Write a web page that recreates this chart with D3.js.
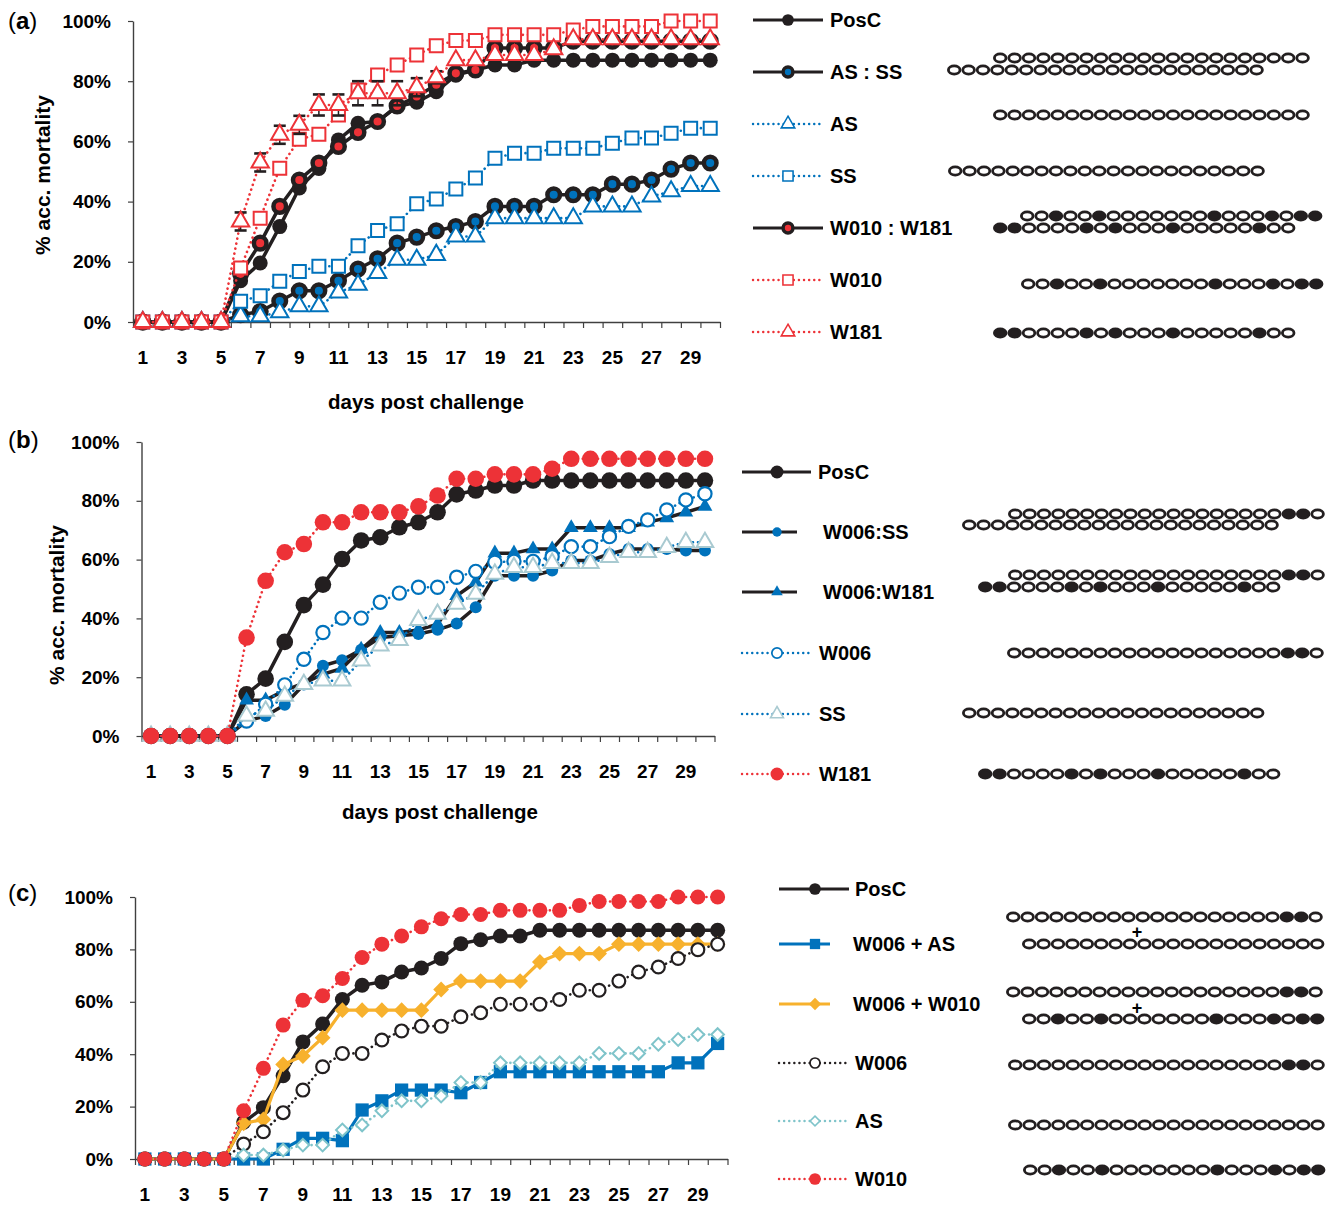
<!DOCTYPE html>
<html>
<head>
<meta charset="utf-8">
<script src="https://cdn.jsdelivr.net/npm/d3@7"></script>
<style>
body { margin: 0; background: #fff; }
text { font-family: "Liberation Sans", Arial, Helvetica, sans-serif; }
</style>
</head>
<body>
<div id="container"></div>
<script>
// days and tick labels
const days = d3.range(1, 31);
const yTicks = [0, 20, 40, 60, 80, 100];
const xLabels = d3.range(1, 30, 2);

// panel (a) values, % accumulated mortality per day
const a_posc = [0,0,0,0,0,13.7,19.6,31.7,44.5,51,60.5,66,66.6,71.6,73,76.5,82,83.7,85.4,85.4,87,87,87,87,87,87,87,87,87,87];
const a_asss = [0,0,0,0,0,2.4,3.5,7,10.4,10.4,13.7,17.6,21,26.2,28.2,30.3,31.7,33.4,38.4,38.4,38.4,42.3,42.3,42.3,45.8,45.8,47.2,50.8,52.8,52.8];
const a_as = [0,0,0,0,0,1.9,1.9,3.2,5.2,5.2,9.8,12.4,16.3,20.7,20.7,22.3,28.4,28.4,34.5,34.5,34.5,34.5,34.5,38.4,38.4,38.4,41.7,43.4,45.2,45.2];
const a_ss = [0,0,0,0,0,6.9,8.7,13.5,16.8,18.5,18.5,25.3,30.4,32.6,39.3,40.9,44.2,47.8,54.4,56.1,56.1,57.7,57.7,57.7,59.4,61.1,61.1,62.7,64.4,64.4];
const a_w010w181 = [0,0,0,0,0,16,26.2,38.4,47.2,52.8,58.3,63,66.6,71.8,74.9,78.8,82.6,83.7,91,91,91,91,93.3,93.3,93.3,93.3,93.3,93.3,93.3,93.3];
const a_w010 = [0,0,0,0,0,17.9,34.5,51.1,60.7,62.4,68.8,77.1,82.1,85.4,88.7,91.8,93.5,93.5,95.4,95.4,95.4,95.4,97,98.2,98.2,98.2,98.2,100,100,100];
const a_w181 = [0,0,0,0,0,33.4,53,62.2,65.5,72.1,72.1,76,76,76,78,81.3,87,87,88.7,88.7,88.7,90.6,93.9,93.9,93.9,93.9,93.9,93.9,93.9,93.9];
const a_w181_err = [0,0,0,0,0,3,3,3,3,3.5,3.5,4,4,4,3,2,0,0,0,0,0,0,0,0,0,0,0,0,0,0];

// panel (b)
const b_posc = [0,0,0,0,0,14.2,19.5,32,44.5,51.5,60.2,66.5,67.6,71,72.7,76.1,82.2,83.5,85.2,85.2,86.9,86.9,86.9,86.9,86.9,86.9,86.9,86.9,86.9,86.9];
const b_w006ss = [0,0,0,0,0,5.1,6.8,10.6,17.5,23.9,25.8,29.3,33.5,34.1,34.7,36.1,38.3,43.8,54.5,54.5,54.5,56.3,59.7,59.7,61.9,63.6,63.6,63.6,63.1,63.1];
const b_w006w181 = [0,0,0,0,0,12.2,12.2,15.5,18,21,23,29.5,35.2,35.2,36.1,38,47.7,52.3,62.2,62.2,63.6,63.6,70.8,70.8,70.8,70.8,72.7,74.2,76.1,78.1];
const b_w006 = [0,0,0,0,0,5.1,10.8,17.4,26.1,35.2,40.1,40.1,45.5,48.6,50.6,50.6,54,56,59.1,59.4,59.4,61,64.4,64.4,67.8,71.3,73.5,76.9,80.3,82.4];
const b_ss = [0,0,0,0,0,6.8,8.5,13.6,17.6,18.8,18.8,25.6,30.7,32.6,39.4,41.5,44.9,48.3,55.1,57.4,57.4,58.8,58.8,58.8,60.8,62.5,62.5,64.2,65.9,65.9];
const b_w181 = [0,0,0,0,0,33.5,52.8,62.5,65.3,72.7,72.7,76.1,76.1,76.1,78.1,81.8,87.5,87.5,89,89,89,90.9,94.3,94.3,94.3,94.3,94.3,94.3,94.3,94.3];

// panel (c)
const c_posc = [0,0,0,0,0,14,19.6,31.8,44.7,51.5,60.9,66.3,67.6,71.4,72.9,76.5,82.2,83.7,85.1,85.1,87.3,87.3,87.3,87.3,87.3,87.3,87.3,87.3,87.3,87.3];
const c_w006as = [0,0,0,0,0,0,0,3.7,7.9,7.9,7,18.7,22.2,26.3,26.3,26.3,25.3,29.2,33.3,33.3,33.3,33.3,33.3,33.3,33.3,33.3,33.3,36.7,36.7,44.1];
const c_w006w010 = [0,0,0,0,0,13.6,15.1,36.1,39.3,46.3,56.8,56.8,56.8,56.8,56.8,64.7,67.9,67.9,67.9,67.9,75.2,78.4,78.4,78.4,82,82,82,82,82,82];
const c_w006 = [0,0,0,0,0,5.7,10.4,17.7,26.3,35.2,40.3,40.3,45.4,48.9,50.7,50.7,54.3,55.8,59.1,59.1,59.1,60.9,64.4,64.4,67.9,71.4,73.3,76.5,79.9,82];
const c_as = [0,0,0,0,0,1.5,1.5,3.4,5.3,5.3,11.1,13,18.4,22.2,22.2,24,29.2,29.2,36.7,36.7,36.7,36.7,36.7,40.3,40.3,40.3,43.8,45.6,47.5,47.5];
const c_w010 = [0,0,0,0,0,18.4,34.6,51.1,60.6,62.3,68.9,76.9,82,85.1,88.6,91.7,93.3,93.3,94.9,94.9,94.9,94.9,96.8,98.3,98.3,98.3,98.3,100,100,100];

// oligo strands, o = open, x = filled (modified) nucleotide
const nt_W006 = 'oooooooooooooooooooxxo';
const nt_W010 = 'ooxooxoooooooxoooxoxx';
const nt_W181 = 'xxooooxoxoooxoooooxoo';
const nt_AS22 = 'oooooooooooooooooooooo';
const nt_AS21 = 'ooooooooooooooooooooo';

const RED = '#ed3237', BLUE = '#0072bc', ORANGE = '#f7b12d', TEAL = '#7fc4ca', PALE = '#a9cad1', BLACK = '#231f20';
const FONT = '"Liberation Sans", Arial, Helvetica, sans-serif';

const svg = d3.select('#container').append('svg')
    .attr('width', 1331).attr('height', 1205)
    .style('background', '#fff');

function drawMarker(g, m, x, y, k) {
    k = k || 1;
    if (m.type === 'circle') {
        g.append('circle').attr('cx', x).attr('cy', y).attr('r', m.r * k)
            .attr('fill', m.fill).attr('stroke', m.stroke || 'none').attr('stroke-width', (m.sw || 0) * k);
    } else {
        const sym = m.type === 'triangle' ? d3.symbolTriangle : d3.symbolSquare;
        const rot = m.type === 'diamond' ? 45 : 0;
        g.append('path').attr('d', d3.symbol().type(sym).size(m.size * k * k)())
            .attr('transform', `translate(${x},${y}) rotate(${rot})`)
            .attr('fill', m.fill).attr('stroke', m.stroke || 'none').attr('stroke-width', (m.sw || 0) * k);
    }
}

function strokeStyle(sel, s, w) {
    sel.attr('fill', 'none').attr('stroke', s.color).attr('stroke-width', w || s.lw);
    if (s.dotted) sel.attr('stroke-dasharray', '0.1 5').attr('stroke-linecap', 'round');
    else sel.attr('stroke-linejoin', 'round');
}

function drawPanel(p) {
    const g = svg.append('g');
    const x = d3.scaleBand().domain(days).range([p.x0, p.x1]);
    const xe = d3.scaleLinear().domain([0, 30]).range([p.x0, p.x1]);
    const y = d3.scaleLinear().domain([0, 100]).range([p.yBot, p.yTop]);

    // axes
    const ya = g.append('g').attr('transform', `translate(${p.x0},0)`)
        .call(d3.axisLeft(y).tickValues(yTicks).tickSize(5).tickSizeOuter(0).tickPadding(17).tickFormat(d => d + '%'));
    const xa = g.append('g').attr('transform', `translate(0,${p.yBot})`)
        .call(d3.axisBottom(xe).tickValues(d3.range(0, 31)).tickSize(6).tickSizeOuter(0).tickFormat(''));
    const xl = g.append('g').attr('transform', `translate(0,${p.yBot})`)
        .call(d3.axisBottom(x).tickValues(xLabels).tickSize(0).tickPadding(29));
    xl.select('.domain').remove();
    [ya, xa].forEach(a => {
        a.select('.domain').attr('stroke', '#404040').attr('stroke-width', 1.4);
        a.selectAll('.tick line').attr('stroke', '#404040').attr('stroke-width', 1.2);
    });
    [ya, xl].forEach(a => a.selectAll('text')
        .style('font-family', FONT).style('font-size', '19px').style('font-weight', 'bold').attr('fill', '#000'));

    // panel letter
    const lt = g.append('text').attr('x', 8).attr('y', p.labelY).style('font-size', '24px');
    lt.append('tspan').text('(');
    lt.append('tspan').style('font-weight', 'bold').text(p.label);
    lt.append('tspan').text(')');

    if (p.yTitle) {
        g.append('text').attr('transform', `translate(${p.yTitle[0]},${p.yTitle[1]}) rotate(-90)`)
            .attr('text-anchor', 'middle').attr('dy', '0.35em')
            .style('font-size', '21px').style('font-weight', 'bold').text('% acc. mortality');
    }
    if (p.xTitle) {
        g.append('text').attr('x', p.xTitle[0]).attr('y', p.xTitle[1]).attr('dy', '0.35em')
            .attr('text-anchor', 'middle').style('font-size', '20.5px').style('font-weight', 'bold')
            .text('days post challenge');
    }

    const cx = d => x(d) + x.bandwidth() / 2;
    const line = d3.line().x((v, i) => cx(days[i])).y(v => y(v));

    p.series.forEach(s => {
        const sg = g.append('g');
        sg.append('path').datum(s.values).attr('d', line).call(strokeStyle, s);
        if (s.err) {
            s.values.forEach((v, i) => {
                const e = s.err[i];
                if (!e) return;
                const xx = cx(days[i]);
                sg.append('line').attr('x1', xx).attr('x2', xx).attr('y1', y(v - e)).attr('y2', y(v + e))
                    .attr('stroke', BLACK).attr('stroke-width', 1.5);
                [v - e, v + e].forEach(t => sg.append('line').attr('x1', xx - 6).attr('x2', xx + 6)
                    .attr('y1', y(t)).attr('y2', y(t)).attr('stroke', BLACK).attr('stroke-width', 2.6));
            });
        }
        s.values.forEach((v, i) => drawMarker(sg, s.marker, cx(days[i]), y(v)));

        // legend entry
        const L = s.legend;
        const lg = g.append('g');
        lg.append('line').attr('x1', L.x0).attr('x2', L.x1).attr('y1', L.y).attr('y2', L.y).call(strokeStyle, s, s.dotted ? 2.4 : 3.2);
        drawMarker(lg, s.marker, p.legMark, L.y, 0.78);
        lg.append('text').attr('x', L.tx).attr('y', L.y).attr('dy', '0.36em')
            .style('font-size', '20px').style('font-weight', 'bold').text(s.name);
    });

    // oligo diagrams
    p.strands.forEach(r => {
        const pitch = 14.4;
        r.nt.split('').forEach((c, i) => {
            g.append('ellipse').attr('cx', r.x + 7.2 + i * pitch).attr('cy', r.y)
                .attr('rx', 5.8).attr('ry', 4.1)
                .attr('fill', c === 'x' ? BLACK : '#fff').attr('stroke', BLACK).attr('stroke-width', 2.8);
        });
    });
    (p.plus || []).forEach(pl => {
        g.append('text').attr('x', pl[0]).attr('y', pl[1]).attr('dy', '0.35em').attr('text-anchor', 'middle')
            .style('font-size', '18px').style('font-weight', 'bold').text('+');
    });
}

const openTri = c => ({ type: 'triangle', size: 130, fill: '#fff', stroke: c, sw: 2 });
const openSq = c => ({ type: 'square', size: 169, fill: '#fff', stroke: c, sw: 2 });

drawPanel({
    label: 'a', labelY: 29, x0: 133, x1: 720, yTop: 21, yBot: 322,
    yTitle: [43, 175], xTitle: [426, 402], legMark: 788,
    series: [
        { name: 'PosC', values: a_posc, color: BLACK, lw: 3.5, marker: { type: 'circle', r: 7.5, fill: BLACK }, legend: { y: 20, x0: 753, x1: 823, tx: 830 } },
        { name: 'AS : SS', values: a_asss, color: BLACK, lw: 3.5, marker: { type: 'circle', r: 6.3, fill: BLUE, stroke: BLACK, sw: 4.5 }, legend: { y: 72, x0: 753, x1: 823, tx: 830 } },
        { name: 'AS', values: a_as, color: BLUE, lw: 2.6, dotted: true, marker: openTri(BLUE), legend: { y: 124, x0: 753, x1: 822, tx: 830 } },
        { name: 'SS', values: a_ss, color: BLUE, lw: 2.6, dotted: true, marker: openSq(BLUE), legend: { y: 176, x0: 753, x1: 822, tx: 830 } },
        { name: 'W010 : W181', values: a_w010w181, color: BLACK, lw: 3.5, marker: { type: 'circle', r: 6.3, fill: RED, stroke: BLACK, sw: 4.5 }, legend: { y: 228, x0: 753, x1: 823, tx: 830 } },
        { name: 'W010', values: a_w010, color: RED, lw: 2.6, dotted: true, marker: openSq(RED), legend: { y: 280, x0: 753, x1: 820, tx: 830 } },
        { name: 'W181', values: a_w181, err: a_w181_err, color: RED, lw: 2.6, dotted: true, marker: openTri(RED), legend: { y: 332, x0: 753, x1: 820, tx: 830 } }
    ],
    strands: [
        { x: 993, y: 58, nt: nt_AS22 }, { x: 947, y: 70, nt: nt_AS22 },
        { x: 993, y: 115, nt: nt_AS22 },
        { x: 948, y: 171, nt: nt_AS22 },
        { x: 1020, y: 216, nt: nt_W010 }, { x: 993, y: 228, nt: nt_W181 },
        { x: 1021, y: 284, nt: nt_W010 },
        { x: 993, y: 333, nt: nt_W181 }
    ]
});

drawPanel({
    label: 'b', labelY: 448, x0: 141.5, x1: 714.5, yTop: 442, yBot: 736,
    yTitle: [57, 605], xTitle: [440, 812], legMark: 777,
    series: [
        { name: 'PosC', values: b_posc, color: BLACK, lw: 3.5, marker: { type: 'circle', r: 8.3, fill: BLACK }, legend: { y: 472, x0: 742, x1: 811, tx: 818 } },
        { name: 'W006:SS', values: b_w006ss, color: BLACK, lw: 3.5, marker: { type: 'circle', r: 6, fill: BLUE }, legend: { y: 532, x0: 742, x1: 797, tx: 823 } },
        { name: 'W006:W181', values: b_w006w181, color: BLACK, lw: 3.5, marker: { type: 'triangle', size: 95, fill: BLUE }, legend: { y: 592, x0: 742, x1: 797, tx: 823 } },
        { name: 'W006', values: b_w006, color: BLUE, lw: 2.6, dotted: true, marker: { type: 'circle', r: 6.6, fill: '#fff', stroke: BLUE, sw: 2.2 }, legend: { y: 653, x0: 742, x1: 810, tx: 819 } },
        { name: 'SS', values: b_ss, color: BLUE, lw: 2.6, dotted: true, marker: { type: 'triangle', size: 120, fill: '#fff', stroke: PALE, sw: 2 }, legend: { y: 714, x0: 742, x1: 810, tx: 819 } },
        { name: 'W181', values: b_w181, color: RED, lw: 2.6, dotted: true, marker: { type: 'circle', r: 8.3, fill: RED }, legend: { y: 774, x0: 742, x1: 810, tx: 819 } }
    ],
    strands: [
        { x: 1008, y: 514, nt: nt_W006 }, { x: 962, y: 525, nt: nt_AS22 },
        { x: 1008, y: 575, nt: nt_W006 }, { x: 978, y: 587, nt: nt_W181 },
        { x: 1007, y: 653, nt: nt_W006 },
        { x: 962, y: 713, nt: nt_AS21 },
        { x: 978, y: 774, nt: nt_W181 }
    ]
});

drawPanel({
    label: 'c', labelY: 901, x0: 135, x1: 727.5, yTop: 897, yBot: 1159,
    yTitle: null, xTitle: null, legMark: 815,
    series: [
        { name: 'PosC', values: c_posc, color: BLACK, lw: 3.5, marker: { type: 'circle', r: 7.5, fill: BLACK }, legend: { y: 889, x0: 779, x1: 849, tx: 855 } },
        { name: 'W006 + AS', values: c_w006as, color: BLUE, lw: 3.2, marker: { type: 'square', size: 175, fill: BLUE }, legend: { y: 944, x0: 779, x1: 830, tx: 853 } },
        { name: 'W006 + W010', values: c_w006w010, color: ORANGE, lw: 3.2, marker: { type: 'diamond', size: 125, fill: ORANGE }, legend: { y: 1004, x0: 779, x1: 830, tx: 853 } },
        { name: 'W006', values: c_w006, color: BLACK, lw: 2.6, dotted: true, marker: { type: 'circle', r: 6.4, fill: '#fff', stroke: BLACK, sw: 2.2 }, legend: { y: 1063, x0: 779, x1: 848, tx: 855 } },
        { name: 'AS', values: c_as, color: TEAL, lw: 2.6, dotted: true, marker: { type: 'diamond', size: 80, fill: '#fff', stroke: TEAL, sw: 2 }, legend: { y: 1121, x0: 779, x1: 848, tx: 855 } },
        { name: 'W010', values: c_w010, color: RED, lw: 2.6, dotted: true, marker: { type: 'circle', r: 7.5, fill: RED }, legend: { y: 1179, x0: 779, x1: 848, tx: 855 } }
    ],
    strands: [
        { x: 1006, y: 917, nt: nt_W006 }, { x: 1022, y: 944, nt: nt_AS21 },
        { x: 1006, y: 992, nt: nt_W006 }, { x: 1022, y: 1019, nt: nt_W010 },
        { x: 1008, y: 1065, nt: nt_W006 },
        { x: 1008, y: 1125, nt: nt_AS22 },
        { x: 1023, y: 1170, nt: nt_W010 }
    ],
    plus: [[1137, 932], [1137, 1008]]
});
</script>
</body>
</html>
